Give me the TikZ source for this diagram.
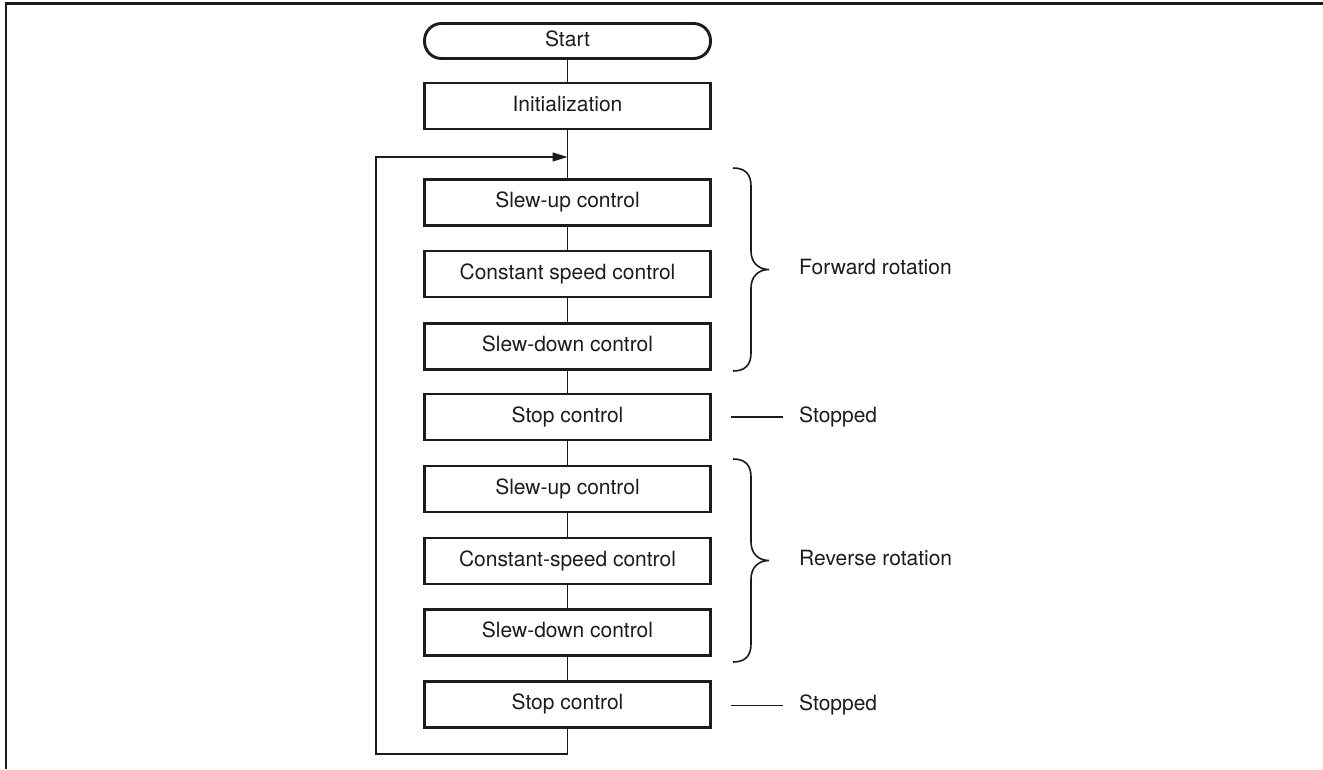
\documentclass[tikz,border=0pt]{standalone}
\usepackage{fontspec}
\setmainfont{TeX Gyre Heros}
\usetikzlibrary{arrows.meta}
\definecolor{ink}{HTML}{1C1C1C}
\begin{document}
\begin{tikzpicture}[x=1pt,y=-1pt,
  every node/.style={font=\fontsize{21}{25}\selectfont, text=ink},
  procbox/.style={draw=ink, line width=2.9pt, minimum width=286pt,
    minimum height=46pt, inner sep=0pt, text height=15pt, text depth=4.5pt},
  termbox/.style={procbox, rounded corners=17pt, minimum height=35pt},
  flow/.style={draw=ink, line width=1.3pt},
  bracepath/.style={draw=ink, line width=1.6pt},
  tag/.style={anchor=west, inner sep=0pt, text height=15pt, text depth=4.5pt}
]
\useasboundingbox (0,0) rectangle (1323,769);

% page frame (top and left rules)
\draw[ink, line width=2.4pt] (1323,3.5) -- (6,3.5) -- (6,769);

% process chain
\node[termbox]  (start) at (567.5,41)    {Start};
\node[procbox]  (init)  at (567.5,106)   {Initialization};
\node[procbox]  (fs1)   at (567.5,202.5) {Slew-up control};
\node[procbox]  (fc1)   at (567.5,274)   {Constant speed control};
\node[procbox]  (fd1)   at (567.5,346.5) {Slew-down control};
\node[procbox]  (fp1)   at (567.5,417)   {Stop control};
\node[procbox]  (rs2)   at (567.5,489)   {Slew-up control};
\node[procbox]  (rc2)   at (567.5,561)   {Constant-speed control};
\node[procbox]  (rd2)   at (567.5,632.5) {Slew-down control};
\node[procbox]  (rp2)   at (567.5,704.5) {Stop control};

\draw[flow] (start) -- (init);
\draw[flow] (init) -- (fs1);
\draw[flow] (fs1) -- (fc1);
\draw[flow] (fc1) -- (fd1);
\draw[flow] (fd1) -- (fp1);
\draw[flow] (fp1) -- (rs2);
\draw[flow] (rs2) -- (rc2);
\draw[flow] (rc2) -- (rd2);
\draw[flow] (rd2) -- (rp2);

% return loop back into the chain
\coordinate (loopbot)  at (376,754);
\coordinate (looptop)  at (376,157);
\coordinate (rejoin)   at (567.5,157);
\draw[flow, -{Triangle[length=15pt,width=9pt]}]
  (rp2.south) |- (loopbot) -- (looptop) -- (rejoin);

% phase braces
\draw[bracepath] (733,168) .. controls (745,168) and (751,174) .. (751,186)
  -- (751,251) .. controls (751,262) and (758,269.5) .. (769,269.5)
  .. controls (758,269.5) and (751,277) .. (751,288)
  -- (751,353) .. controls (751,365) and (745,371) .. (733,371);
\draw[bracepath] (733,459) .. controls (745,459) and (751,465) .. (751,477)
  -- (751,542) .. controls (751,553) and (758,560.5) .. (769,560.5)
  .. controls (758,560.5) and (751,568) .. (751,579)
  -- (751,644) .. controls (751,656) and (745,662) .. (733,662);

\node[tag] (fwd) at (799,269.5) {Forward rotation};
\node[tag] (rev) at (799,560.5) {Reverse rotation};

% stopped markers
\node[tag] (stp1) at (799,417)   {Stopped};
\node[tag] (stp2) at (799,705.5) {Stopped};
\coordinate (stp1a) at (731,417);
\coordinate (stp2a) at (731,705.5);
\draw[flow] (stp1a) -- ([xshift=-16pt]stp1.west);
\draw[flow] (stp2a) -- ([xshift=-16pt]stp2.west);
\end{tikzpicture}
\end{document}
